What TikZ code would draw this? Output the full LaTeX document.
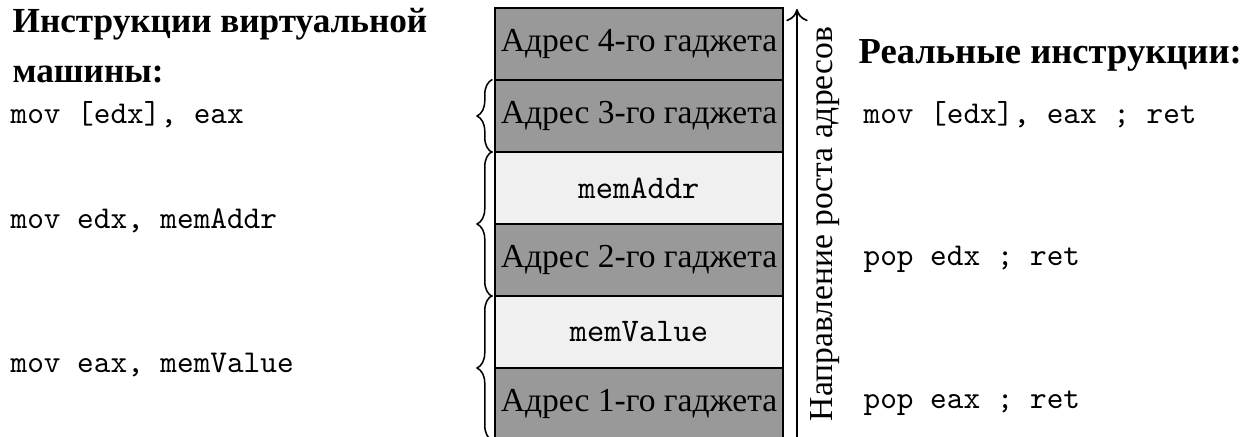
\documentclass[tikz,border=0pt]{standalone}
\usepackage{fontspec}
\setmainfont{Liberation Serif}
\usetikzlibrary{decorations.pathreplacing,arrows.meta}

\newcommand\px{0.3279pt}
\definecolor{gadgetgray}{HTML}{999999}
\definecolor{valuegray}{HTML}{F0F0F0}

\tikzset{
  cell/.style={draw=black, line width=0.4pt, minimum width={288*\px},
    minimum height={72*\px}, inner sep=0pt},
  gadget/.style={cell, fill=gadgetgray, font=\fontsize{11}{13}\selectfont},
  stackval/.style={cell, fill=valuegray, font=\ttfamily\fontsize{10.8}{12}\selectfont},
  heading/.style={anchor=base west, inner sep=0pt, font=\fontsize{12}{14}\selectfont\bfseries},
  code/.style={anchor=base west, inner sep=0pt, font=\ttfamily\fontsize{10.4}{12}\selectfont},
  frame brace/.style={decorate, decoration={brace, amplitude=5pt}, line width=0.5pt},
  growth/.style={-{To[length=4pt,width=7pt]}, line width=0.55pt},
  growlabel/.style={rotate=90, anchor=base, inner sep=0pt, font=\fontsize{11}{13}\selectfont}
}

\begin{document}
\begin{tikzpicture}[x=\px, y=-\px]
  \useasboundingbox (0,0) rectangle (1250,436);
  \clip (0,0) rectangle (1250,436);

  % stack cells, top = higher addresses
  \node[gadget]   (g4) at (639,44)  {Адрес 4-го гаджета};
  \node[gadget]   (g3) at (639,116) {Адрес 3-го гаджета};
  \node[stackval] (ma) at (639,188) {memAddr};
  \node[gadget]   (g2) at (639,260) {Адрес 2-го гаджета};
  \node[stackval] (mv) at (639,332) {memValue};
  \node[gadget]   (g1) at (639,404) {Адрес 1-го гаджета};

  % braces grouping the cells of each instruction
  \draw[frame brace] ([xshift={-2*\px}]g3.south west) -- ([xshift={-2*\px}]g3.north west);
  \draw[frame brace] ([xshift={-2*\px}]g2.south west) -- ([xshift={-2*\px}]ma.north west);
  \draw[frame brace] ([xshift={-2*\px}]g1.south west) -- ([xshift={-2*\px}]mv.north west);

  % address growth direction
  \coordinate (abot) at (797,445);
  \coordinate (atop) at (797,9);
  \draw[growth] (abot) -- (atop);
  \node[growlabel] (dir) at (832,224) {Направление роста адресов};

  % virtual machine instructions
  \node[heading, font=\fontsize{11.55}{14}\selectfont\bfseries] (vmh1) at (12,32) {Инструкции виртуальной};
  \node[heading, font=\fontsize{11.55}{14}\selectfont\bfseries] (vmh2) at (12,82) {машины:};
  \node[code] (vm1) at (10,123) {mov [edx], eax};
  \node[code] (vm2) at (10,228) {mov edx, memAddr};
  \node[code] (vm3) at (10,372) {mov eax, memValue};

  % real instructions
  \node[heading] (rh) at (858,63) {Реальные инструкции:};
  \node[code] (re1) at (863,123) {mov [edx], eax ; ret};
  \node[code] (re2) at (863,265) {pop edx ; ret};
  \node[code] (re3) at (863,408) {pop eax ; ret};
\end{tikzpicture}
\end{document}
